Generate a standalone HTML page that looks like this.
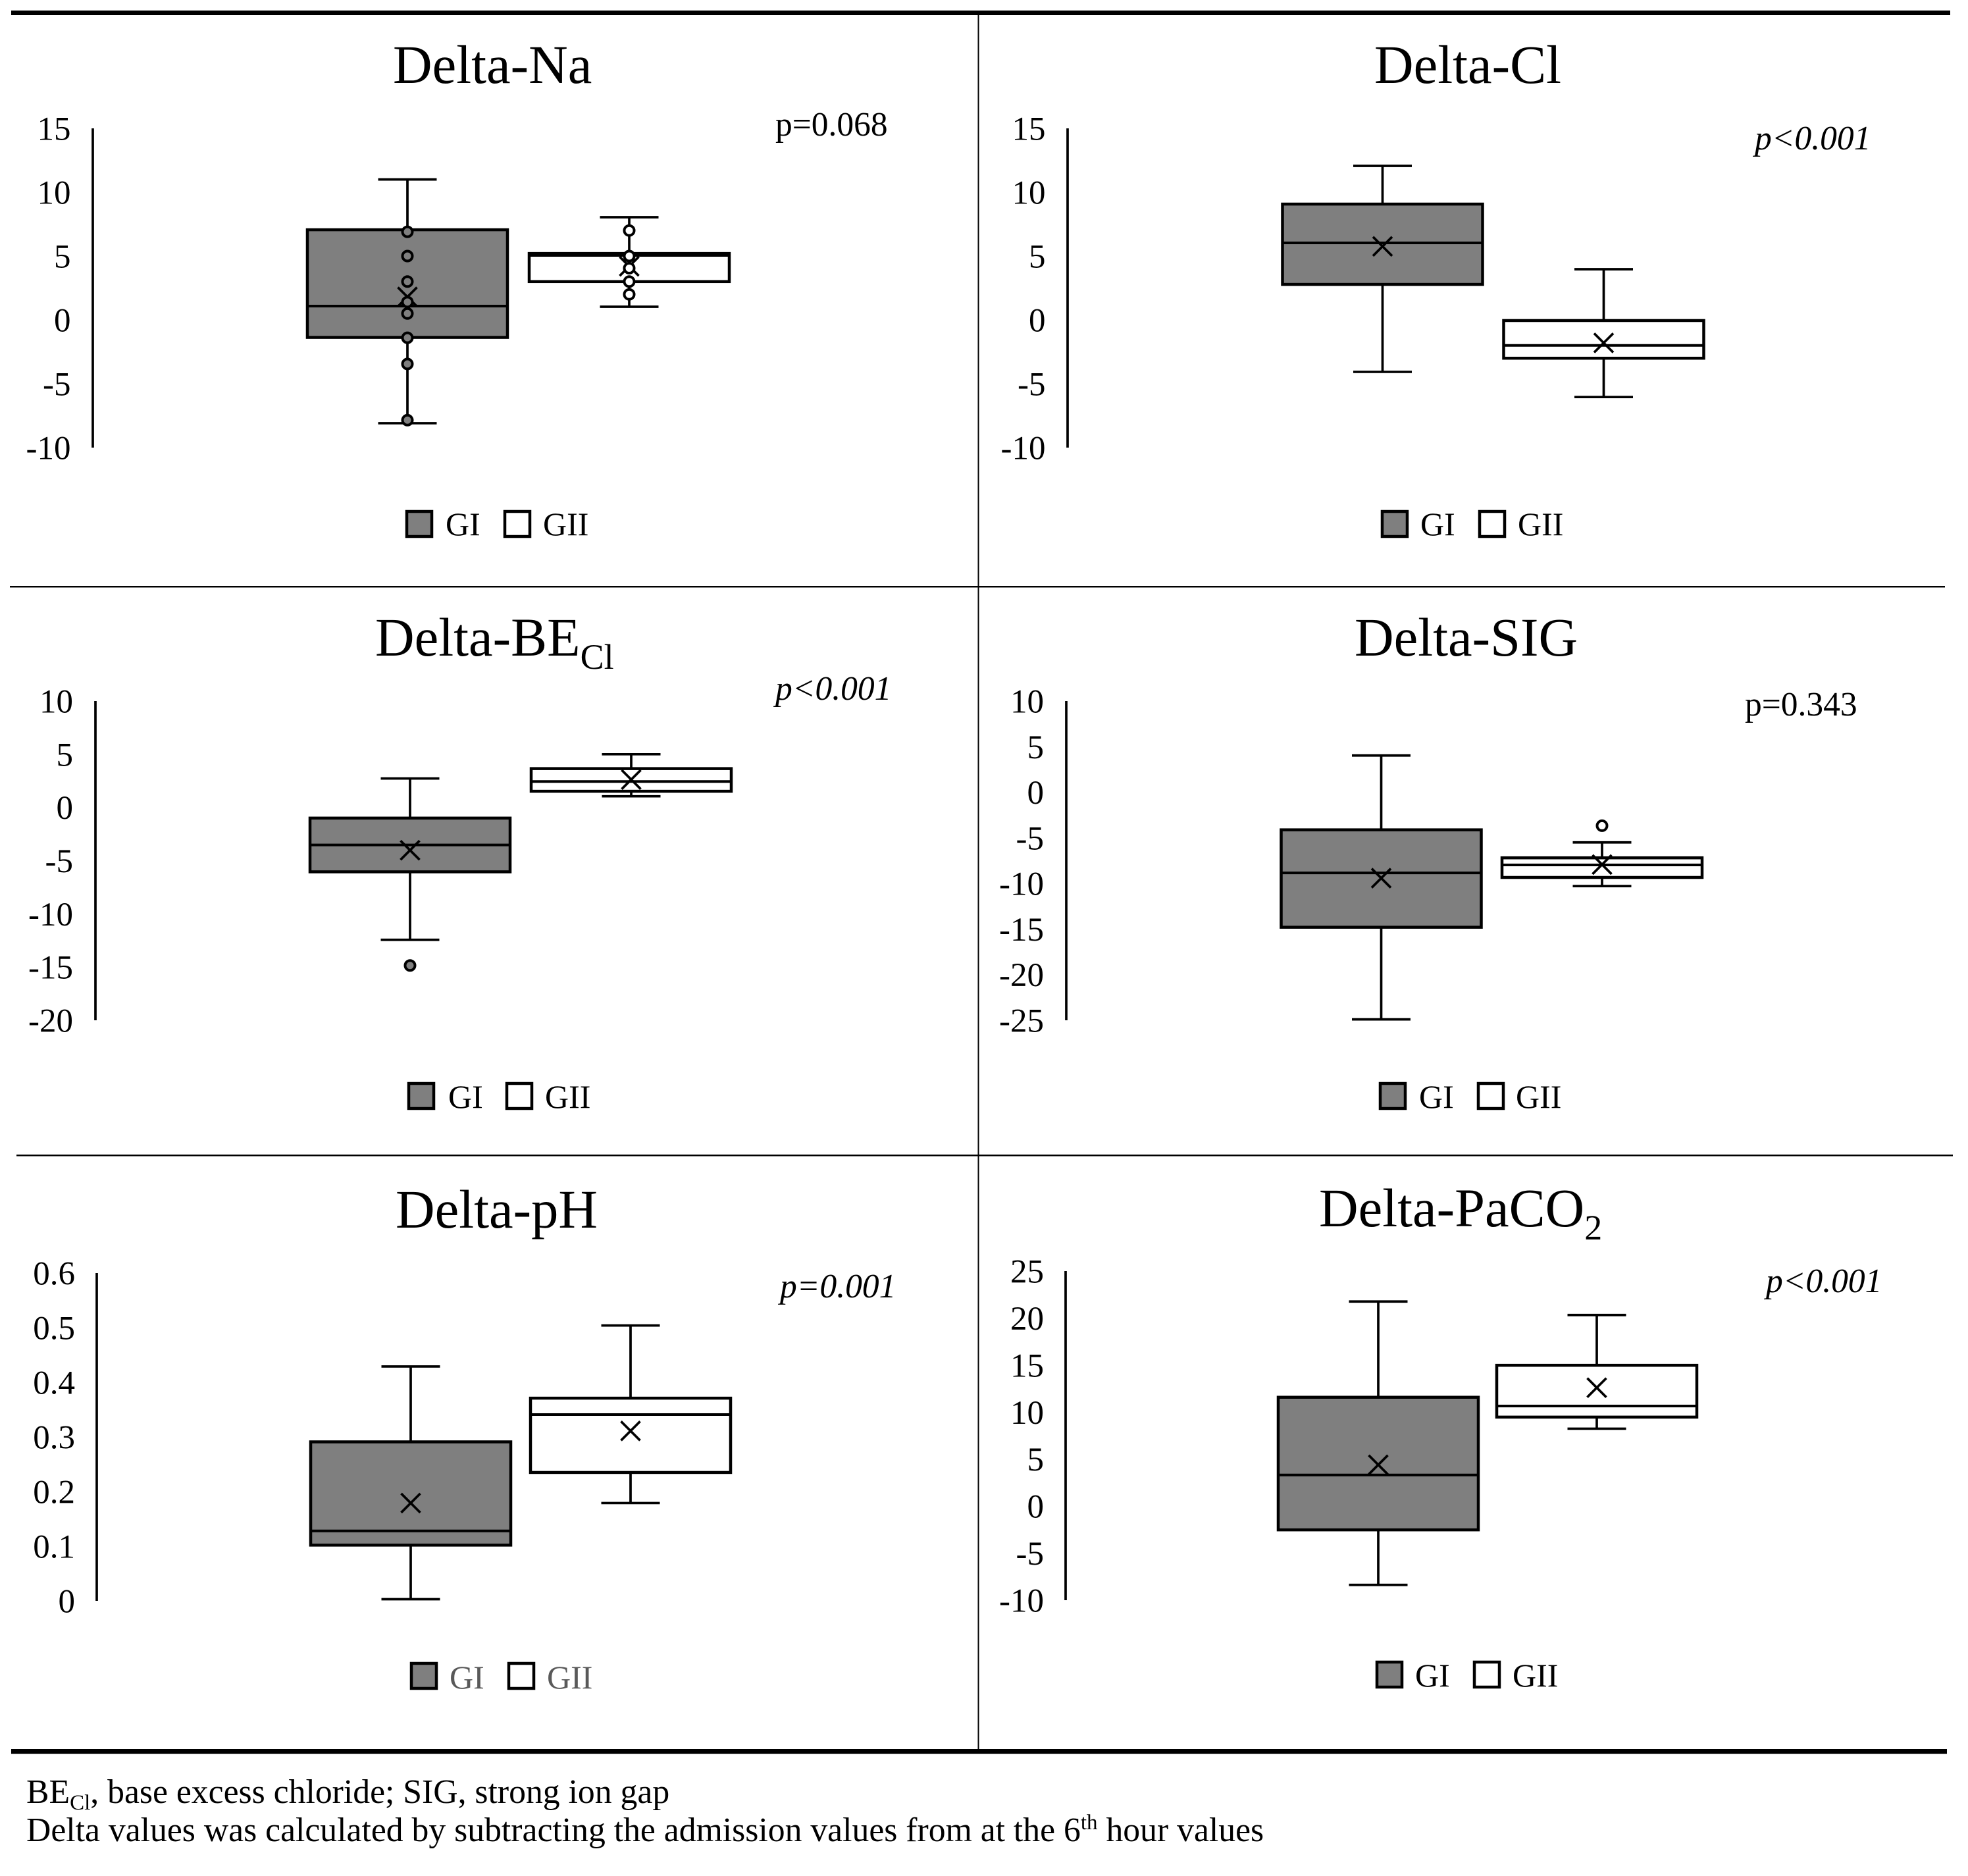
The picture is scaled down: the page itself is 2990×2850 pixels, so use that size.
<!DOCTYPE html>
<html lang="en">
<head>
<meta charset="utf-8">
<title>Delta values box plots</title>
<style>
html,body{margin:0;padding:0;background:#fff;width:2990px;height:2850px;overflow:hidden}
svg{display:block}
text{font-family:"Liberation Serif","Times New Roman",serif;fill:#000}
.title{font-size:82.5px}
.tick{font-size:51px;text-anchor:end}
.pval{font-size:51.5px}
.it{font-style:italic}
.leg{font-size:50px}
.foot{font-size:51.7px}
</style>
</head>
<body>
<svg id="figure" xmlns="http://www.w3.org/2000/svg" width="2990" height="2850" viewBox="0 0 2990 2850">
  <rect x="0" y="0" width="2990" height="2850" fill="#fff"/>
  <rect x="17" y="16" width="2946" height="7" fill="#000"/>
  <rect x="15" y="890" width="2940" height="2.5" fill="#000"/>
  <rect x="25" y="1754" width="2942" height="2.5" fill="#000"/>
  <rect x="17" y="2657" width="2941" height="7.5" fill="#000"/>
  <rect x="1485.5" y="20" width="2" height="2639" fill="#000"/>

  <text class="title" x="597" y="126">Delta-Na</text>
  <text class="title" x="2088" y="126">Delta-Cl</text>
  <text class="title" x="570" y="996">Delta-BE<tspan font-size="54" dy="20">Cl</tspan></text>
  <text class="title" x="2058" y="996">Delta-SIG</text>
  <text class="title" x="601" y="1865">Delta-pH</text>
  <text class="title" x="2004" y="1863">Delta-PaCO<tspan font-size="54" dy="20">2</tspan></text>

  <text class="pval" x="1178" y="206">p=0.068</text>
  <text class="pval it" x="2666" y="227">p&lt;0.001</text>
  <text class="pval it" x="1178" y="1063">p&lt;0.001</text>
  <text class="pval" x="2651" y="1087">p=0.343</text>
  <text class="pval it" x="1185" y="1971">p=0.001</text>
  <text class="pval it" x="2683" y="1963">p&lt;0.001</text>

  <g>
    <rect x="618" y="777" width="38" height="38" fill="#7f7f7f" stroke="#000" stroke-width="4.5"/>
    <text class="leg" x="677" y="813">GI</text>
    <rect x="767" y="777" width="38" height="38" fill="#fff" stroke="#000" stroke-width="4.5"/>
    <text class="leg" x="825" y="813">GII</text>
  </g>
  <g>
    <rect x="2100" y="777" width="38" height="38" fill="#7f7f7f" stroke="#000" stroke-width="4.5"/>
    <text class="leg" x="2158" y="813">GI</text>
    <rect x="2248" y="777" width="38" height="38" fill="#fff" stroke="#000" stroke-width="4.5"/>
    <text class="leg" x="2306" y="813">GII</text>
  </g>
  <g>
    <rect x="621" y="1646" width="38" height="38" fill="#7f7f7f" stroke="#000" stroke-width="4.5"/>
    <text class="leg" x="681" y="1683">GI</text>
    <rect x="770" y="1646" width="38" height="38" fill="#fff" stroke="#000" stroke-width="4.5"/>
    <text class="leg" x="828" y="1683">GII</text>
  </g>
  <g>
    <rect x="2097" y="1646" width="38" height="38" fill="#7f7f7f" stroke="#000" stroke-width="4.5"/>
    <text class="leg" x="2156" y="1683">GI</text>
    <rect x="2246" y="1646" width="38" height="38" fill="#fff" stroke="#000" stroke-width="4.5"/>
    <text class="leg" x="2303" y="1683">GII</text>
  </g>
  <g>
    <rect x="625" y="2527" width="38" height="38" fill="#7f7f7f" stroke="#000" stroke-width="4.5"/>
    <text class="leg" x="683" y="2565" style="fill:#595959">GI</text>
    <rect x="773" y="2527" width="38" height="38" fill="#fff" stroke="#000" stroke-width="4.5"/>
    <text class="leg" x="831" y="2565" style="fill:#595959">GII</text>
  </g>
  <g>
    <rect x="2092" y="2525" width="38" height="38" fill="#7f7f7f" stroke="#000" stroke-width="4.5"/>
    <text class="leg" x="2150" y="2562">GI</text>
    <rect x="2240" y="2525" width="38" height="38" fill="#fff" stroke="#000" stroke-width="4.5"/>
    <text class="leg" x="2298" y="2562">GII</text>
  </g>

  <text class="foot" x="40" y="2739">BE<tspan font-size="33" dy="10">Cl</tspan><tspan dy="-10">, base excess chloride; SIG, strong ion gap</tspan></text>
  <text class="foot" x="40" y="2797">Delta values was calculated by subtracting the admission values from at the 6<tspan font-size="33" dy="-18">th</tspan><tspan dy="18"> hour values</tspan></text>

  <g id="plots"></g>
</svg>
<script>
// Tick labels per chart
const naTicks = [15, 10, 5, 0, -5, -10];
const clTicks = [15, 10, 5, 0, -5, -10];
const beTicks = [10, 5, 0, -5, -10, -15, -20];
const sigTicks = [10, 5, 0, -5, -10, -15, -20, -25];
const phTicks = [0.6, 0.5, 0.4, 0.3, 0.2, 0.1, 0];
const pco2Ticks = [25, 20, 15, 10, 5, 0, -5, -10];

// Box statistics: low whisker, Q1, median, Q3, high whisker, mean
const naGI = [-8.09, -1.37, 1.08, 7.06, 11.0, 1.8];
const naGII = [1.03, 3.0, 5.05, 5.2, 8.04, 4.2];
const clGI = [-4.07, 2.78, 6.03, 9.07, 12.06, 5.76];
const clGII = [-6.04, -3.0, -2.0, -0.05, 3.97, -1.8];
const beGI = [-12.44, -6.05, -3.52, -1.0, 2.72, -4.02];
const beGII = [1.05, 1.52, 2.44, 3.65, 5.0, 2.62];
const sigGI = [-24.9, -14.8, -8.84, -4.12, 4.03, -9.42];
const sigGII = [-10.29, -9.34, -7.97, -7.19, -5.5, -7.93];
const phGI = [0.003, 0.102, 0.128, 0.291, 0.429, 0.179];
const phGII = [0.179, 0.235, 0.341, 0.371, 0.504, 0.311];
const pco2GI = [-8.37, -2.52, 3.32, 11.58, 21.76, 4.4];
const pco2GII = [8.24, 9.47, 10.65, 14.98, 20.33, 12.6];

// Individual points
const naPointsGI = [6.9, 5.0, 3.0, 1.4, 0.5, -1.4, -3.45, -7.85];
const naPointsGII = [7.0, 5.0, 4.05, 3.0, 2.0];
const bePointsGI = [-14.85];
const sigPointsGII = [-3.67];

const panels = [
  {key:'delta-na', ticks:naTicks, gi:naGI, gii:naGII, ptsGi:naPointsGI, ptsGii:naPointsGII, axisX:141, top:195, bottom:680, labelX:107.5, cx1:619, cx2:956},
  {key:'delta-cl', ticks:clTicks, gi:clGI, gii:clGII, ptsGi:[], ptsGii:[], axisX:1622, top:195, bottom:680, labelX:1588.5, cx1:2100.5, cx2:2436.5},
  {key:'delta-becl', ticks:beTicks, gi:beGI, gii:beGII, ptsGi:bePointsGI, ptsGii:[], axisX:145, top:1065, bottom:1550, labelX:111, cx1:623, cx2:959},
  {key:'delta-sig', ticks:sigTicks, gi:sigGI, gii:sigGII, ptsGi:[], ptsGii:sigPointsGII, axisX:1620, top:1065, bottom:1550, labelX:1586, cx1:2098.5, cx2:2434},
  {key:'delta-ph', ticks:phTicks, gi:phGI, gii:phGII, ptsGi:[], ptsGii:[], axisX:147, top:1934, bottom:2432, labelX:114, cx1:624, cx2:958},
  {key:'delta-paco2', ticks:pco2Ticks, gi:pco2GI, gii:pco2GII, ptsGi:[], ptsGii:[], axisX:1619, top:1931, bottom:2431, labelX:1586, cx1:2094, cx2:2426}
];

const SVG_NS = 'http://www.w3.org/2000/svg';
const BOX_HALF = 152, CAP_HALF = 44.5, X_HALF = 14.5;

function mk(parent, tag, attrs) {
  const n = document.createElementNS(SVG_NS, tag);
  for (const k in attrs) n.setAttribute(k, attrs[k]);
  parent.appendChild(n);
  return n;
}

function yAxisScale(p) {
  const max = p.ticks[0], min = p.ticks[p.ticks.length - 1];
  return function (v) { return p.top + (max - v) / (max - min) * (p.bottom - p.top); };
}

function drawBox(g, cx, stats, y, fill, group, points) {
  const low = y(stats[0]), q1 = y(stats[1]), med = y(stats[2]), q3 = y(stats[3]), high = y(stats[4]), mean = y(stats[5]);
  const whisker = mk(g, 'line', {x1:cx, x2:cx, y1:high, y2:low, stroke:'#000', 'stroke-width':3.7});
  
  
  const capHigh = mk(g, 'line', {x1:cx - CAP_HALF, x2:cx + CAP_HALF, y1:high, y2:high, stroke:'#000', 'stroke-width':3.7});
  
  
  const capLow = mk(g, 'line', {x1:cx - CAP_HALF, x2:cx + CAP_HALF, y1:low, y2:low, stroke:'#000', 'stroke-width':3.7});
  
  
  const box = mk(g, 'rect', {x:cx - BOX_HALF, y:q3, width:2 * BOX_HALF, height:q1 - q3, fill:fill, stroke:'#000', 'stroke-width':4.5});
  
  
  const median = mk(g, 'line', {x1:cx - BOX_HALF, x2:cx + BOX_HALF, y1:med, y2:med, stroke:'#000', 'stroke-width':4});
  
  
  const m1 = mk(g, 'line', {x1:cx - X_HALF, x2:cx + X_HALF, y1:mean - X_HALF, y2:mean + X_HALF, stroke:'#000', 'stroke-width':3.7});
  
  
  const m2 = mk(g, 'line', {x1:cx - X_HALF, x2:cx + X_HALF, y1:mean + X_HALF, y2:mean - X_HALF, stroke:'#000', 'stroke-width':3.7});
  
  
  points.forEach(function (v) {
    const c = mk(g, 'circle', {cx:cx, cy:y(v), r:7.5, fill:fill, stroke:'#000', 'stroke-width':4});
    
    
  });
}

const root = document.getElementById('plots');
panels.forEach(function (p) {
  const y = yAxisScale(p);
  const g = mk(root, 'g', {});
  
  
  const axis = mk(g, 'line', {x1:p.axisX, x2:p.axisX, y1:p.top, y2:p.bottom, stroke:'#000', 'stroke-width':3.7});
  
  
  p.ticks.forEach(function (t) {
    const label = mk(g, 'text', {x:p.labelX, y:y(t) + 17.5, 'class':'tick'});
    label.textContent = String(t);
    
    
  });
  drawBox(g, p.cx1, p.gi, y, '#7f7f7f', 'gi', p.ptsGi);
  drawBox(g, p.cx2, p.gii, y, '#ffffff', 'gii', p.ptsGii);
});
</script>
</body>
</html>
